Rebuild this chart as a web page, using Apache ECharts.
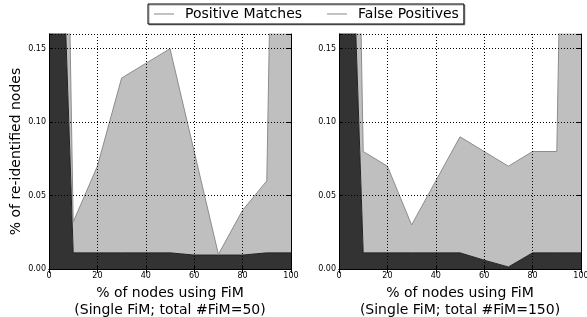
<!DOCTYPE html>
<html>
<head>
<meta charset="utf-8">
<script src="https://cdn.jsdelivr.net/npm/echarts@6/dist/echarts.min.js"></script>
<style>
  html, body { margin: 0; padding: 0; background: #fff; }
  #chart { width: 587px; height: 317px; }
</style>
</head>
<body>
<div id="chart"></div>
<script>
// x positions (% of nodes using FiM)
const xValues = ['0', '10', '20', '30', '40', '50', '60', '70', '80', '90', '100'];

// left panel: total #FiM=50
const positiveLeft = [0.5, 0.011, 0.011, 0.011, 0.011, 0.011, 0.0095, 0.0095, 0.0095, 0.011, 0.011];
const falseLeft = [0.5, 0.021, 0.059, 0.119, 0.129, 0.139, 0.0705, 0.0005, 0.0305, 0.049, 0.989];

// right panel: total #FiM=150
const positiveRight = [0.5, 0.011, 0.011, 0.011, 0.011, 0.011, 0.006, 0.0014, 0.011, 0.011, 0.011];
const falseRight = [0.5, 0.069, 0.059, 0.019, 0.049, 0.079, 0.074, 0.0686, 0.069, 0.069, 0.989];

const yTicks = [0, 0.05, 0.10, 0.15];

const FONT = 'DejaVu Sans';

const chart = echarts.init(document.getElementById('chart'));

function mainX(gridIndex, name) {
  return {
    type: 'category', data: xValues, boundaryGap: false, gridIndex: gridIndex, z: 5,
    name: name, nameLocation: 'middle', nameGap: 12,
    nameTextStyle: { fontFamily: FONT, fontSize: 14, color: '#000', lineHeight: 17 },
    axisLine: { show: true, lineStyle: { color: '#000', width: 1 } },
    axisTick: { show: true, inside: true, length: 4, interval: 1, lineStyle: { color: '#000' } },
    axisLabel: { fontFamily: FONT, fontSize: 8, color: '#000', margin: 3, interval: 1 },
    splitLine: { show: true, interval: 1, lineStyle: { color: '#000', type: [1, 2], width: 1 } }
  };
}
function mainY(gridIndex, name) {
  return {
    type: 'value', gridIndex: gridIndex, min: 0, max: 0.16, interval: 0.05, z: 5,
    name: name, nameLocation: 'middle', nameGap: 26,
    nameTextStyle: { fontFamily: FONT, fontSize: 14, color: '#000' },
    axisLine: { show: true, lineStyle: { color: '#000', width: 1 } },
    axisTick: { show: true, inside: true, length: 4, lineStyle: { color: '#000' } },
    axisLabel: {
      fontFamily: FONT, fontSize: 8, color: '#000', margin: 3,
      formatter: (v) => yTicks.some(t => Math.abs(t - v) < 1e-9) ? v.toFixed(2) : ''
    },
    splitLine: { show: true, lineStyle: { color: '#000', type: [1, 2], width: 1 } }
  };
}
function frameX(gridIndex) {
  return {
    type: 'category', data: xValues, boundaryGap: false, gridIndex: gridIndex, position: 'top', z: 5,
    axisLine: { show: true, lineStyle: { color: '#000' } },
    axisTick: { show: true, inside: true, length: 4, interval: 1, lineStyle: { color: '#000' } },
    axisLabel: { show: false }, splitLine: { show: false }
  };
}
function frameY(gridIndex) {
  return {
    type: 'value', gridIndex: gridIndex, position: 'right', min: 0, max: 0.16, interval: 0.05, z: 5,
    axisLine: { show: true, lineStyle: { color: '#000' } },
    axisTick: { show: true, inside: true, length: 4, lineStyle: { color: '#000' } },
    axisLabel: { show: false }, splitLine: { show: false }
  };
}

function stackPair(xIdx, yIdx, stack, pm, fp) {
  return [
    {
      name: 'Positive Matches', type: 'line', xAxisIndex: xIdx, yAxisIndex: yIdx,
      stack: stack, showSymbol: false, animation: false,
      itemStyle: { color: '#333333' },
      lineStyle: { color: '#222222', width: 1 },
      areaStyle: { color: '#333333', opacity: 1 },
      data: pm
    },
    {
      name: 'False Positives', type: 'line', xAxisIndex: xIdx, yAxisIndex: yIdx,
      stack: stack, showSymbol: false, animation: false,
      itemStyle: { color: '#bfbfbf' },
      lineStyle: { color: '#8c8c8c', width: 1 },
      areaStyle: { color: '#bfbfbf', opacity: 1 },
      data: fp
    }
  ];
}

const option = {
  backgroundColor: '#fff',
  animation: false,
  legend: {
    left: 148, top: 4,
    padding: [3, 5, 3, 6],
    itemGap: 25, itemWidth: 20, itemHeight: 1.2,
    icon: 'rect',
    borderColor: '#000', borderWidth: 1, borderRadius: 0,
    backgroundColor: '#fff',
    shadowColor: 'rgba(0,0,0,0.35)', shadowOffsetX: 1, shadowOffsetY: 1,
    textStyle: { fontFamily: FONT, fontSize: 14, color: '#000', padding: [0, 0, 0, 6] },
    data: [
      { name: 'Positive Matches', itemStyle: { color: '#999999' } },
      { name: 'False Positives', itemStyle: { color: '#999999' } }
    ]
  },
  grid: [
    { left: 49, top: 34, width: 242, height: 235, outerBoundsMode: 'none', containLabel: false },
    { left: 339, top: 34, width: 242, height: 235, outerBoundsMode: 'none', containLabel: false }
  ],
  xAxis: [
    mainX(0, '% of nodes using FiM\n(Single FiM; total #FiM=50)'),
    mainX(1, '% of nodes using FiM\n(Single FiM; total #FiM=150)'),
    frameX(0), frameX(1)
  ],
  yAxis: [
    mainY(0, '% of re-identified nodes'),
    mainY(1, ''),
    frameY(0), frameY(1)
  ],
  series: [].concat(
    stackPair(0, 0, 'left', positiveLeft, falseLeft),
    stackPair(1, 1, 'right', positiveRight, falseRight)
  )
};

chart.setOption(option);
</script>
</body>
</html>
